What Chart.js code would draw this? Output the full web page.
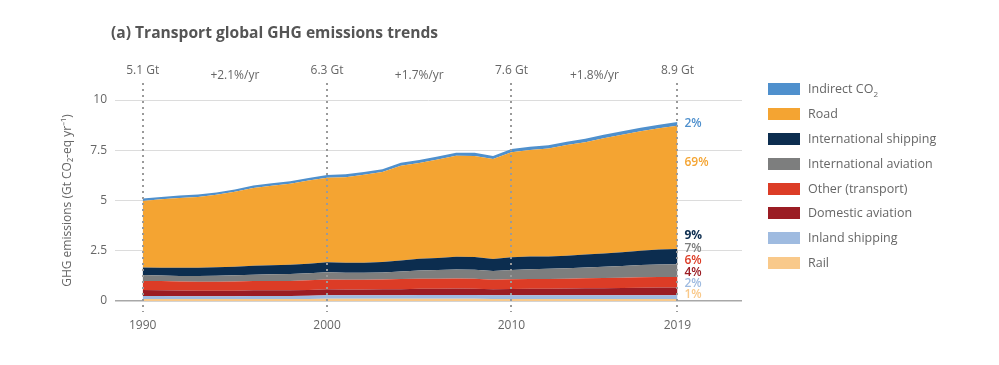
<!DOCTYPE html>
<html>
<head>
<meta charset="utf-8">
<script src="https://cdn.jsdelivr.net/npm/chart.js@4"></script>
<style>
  body { margin: 0; background: #fff; font-family: "Open Sans", sans-serif; }
  #wrap { position: relative; width: 999px; height: 365px; }
  #title { position: absolute; left: 111px; top: 21px; font-size: 15.6px; font-weight: 700; color: #555; }
  #legend { position: absolute; left: 768px; top: 82px; }
  .item { height: 24.9px; display: flex; align-items: flex-start; font-size: 12.5px; color: #666; }
  .sw { width: 32px; height: 12px; margin-right: 8px; margin-top: 1px; }
  .item span.t { line-height: 14px; }
  canvas { position: absolute; left: 0; top: 0; }
</style>
</head>
<body>
<div id="wrap">
  <canvas id="c" width="999" height="365"></canvas>
  <div id="title">(a) Transport global GHG emissions trends</div>
  <div id="legend"></div>
</div>
<script>
const years = [1990,1991,1992,1993,1994,1995,1996,1997,1998,1999,2000,2001,2002,2003,2004,2005,2006,2007,2008,2009,2010,2011,2012,2013,2014,2015,2016,2017,2018,2019];

// Gt CO2-eq per year, each layer on its own (stacked bottom to top)
const rail = [0.10,0.10,0.10,0.10,0.10,0.10,0.10,0.10,0.10,0.10,0.11,0.11,0.11,0.11,0.11,0.11,0.11,0.11,0.11,0.10,0.10,0.10,0.10,0.10,0.10,0.10,0.10,0.10,0.10,0.10];
const inlandShipping = [0.15,0.15,0.14,0.14,0.14,0.14,0.15,0.15,0.15,0.16,0.17,0.17,0.17,0.18,0.18,0.19,0.19,0.19,0.19,0.18,0.19,0.19,0.19,0.19,0.19,0.19,0.19,0.19,0.19,0.19];
const domesticAviation = [0.30,0.29,0.28,0.27,0.27,0.27,0.28,0.28,0.28,0.29,0.30,0.29,0.29,0.29,0.30,0.31,0.31,0.32,0.31,0.30,0.31,0.32,0.32,0.33,0.34,0.35,0.36,0.37,0.38,0.38];
const otherTransport = [0.45,0.45,0.45,0.45,0.45,0.46,0.46,0.47,0.47,0.48,0.49,0.49,0.49,0.49,0.50,0.50,0.50,0.50,0.50,0.48,0.48,0.49,0.49,0.49,0.50,0.50,0.51,0.52,0.52,0.53];
const intlAviation = [0.29,0.28,0.28,0.29,0.30,0.31,0.32,0.33,0.34,0.35,0.36,0.34,0.34,0.35,0.38,0.41,0.43,0.45,0.45,0.43,0.46,0.48,0.50,0.52,0.54,0.56,0.58,0.61,0.63,0.63];
const intlShipping = [0.38,0.39,0.40,0.41,0.42,0.43,0.44,0.45,0.46,0.47,0.50,0.50,0.50,0.52,0.55,0.58,0.60,0.63,0.63,0.60,0.64,0.63,0.61,0.62,0.64,0.66,0.68,0.71,0.74,0.76];
const road = [3.31,3.40,3.48,3.52,3.60,3.72,3.87,3.95,4.03,4.14,4.20,4.26,4.38,4.48,4.71,4.77,4.90,5.03,5.03,4.97,5.22,5.30,5.38,5.51,5.59,5.74,5.85,5.95,6.03,6.13];
const indirectCO2 = [0.12,0.12,0.12,0.12,0.12,0.12,0.13,0.13,0.13,0.13,0.14,0.14,0.14,0.14,0.15,0.15,0.15,0.15,0.15,0.15,0.16,0.16,0.16,0.16,0.17,0.17,0.17,0.17,0.18,0.18];

const markYears = [1990, 2000, 2010, 2019];
const totalLabels = ["5.1 Gt", "6.3 Gt", "7.6 Gt", "8.9 Gt"];
const growthLabels = ["+2.1%/yr", "+1.7%/yr", "+1.8%/yr"];
const shareLabels = ["2%", "69%", "9%", "7%", "6%", "4%", "2%", "1%"];
const yTicks = [0, 2.5, 5, 7.5, 10];

const layers = [
  { label: "Rail", data: rail, color: "#f9c98a" },
  { label: "Inland shipping", data: inlandShipping, color: "#9fbbe0" },
  { label: "Domestic aviation", data: domesticAviation, color: "#9b1c23" },
  { label: "Other (transport)", data: otherTransport, color: "#dc3c26" },
  { label: "International aviation", data: intlAviation, color: "#7d7e7e" },
  { label: "International shipping", data: intlShipping, color: "#0c2d4f" },
  { label: "Road", data: road, color: "#f4a432" },
  { label: "Indirect CO₂", data: indirectCO2, color: "#4f90cd", html: "Indirect CO<sub style='font-size:8px'>2</sub>" },
];

// legend, top to bottom
const legend = document.getElementById("legend");
[...layers].reverse().forEach(l => {
  const row = document.createElement("div");
  row.className = "item";
  row.innerHTML = `<div class="sw" style="background:${l.color}"></div><span class="t">${l.html || l.label}</span>`;
  legend.appendChild(row);
});

const decor = {
  id: "decor",
  afterDatasetsDraw(chart) {
    const { ctx, scales: { x, y } } = chart;
    ctx.save();
    // dotted year markers
    ctx.strokeStyle = "#9a9a9a";
    ctx.lineWidth = 2;
    ctx.setLineDash([2, 4]);
    markYears.forEach(yr => {
      const px = Math.round(x.getPixelForValue(yr));
      ctx.beginPath();
      ctx.moveTo(px, 83);
      ctx.lineTo(px, 312);
      ctx.stroke();
    });
    ctx.setLineDash([]);
    ctx.font = "12px 'Open Sans'";
    ctx.fillStyle = "#666";
    ctx.textAlign = "center";
    ctx.textBaseline = "middle";
    markYears.forEach((yr, i) => ctx.fillText(totalLabels[i], x.getPixelForValue(yr), 71));
    growthLabels.forEach((t, i) => {
      const mid = (markYears[i] + markYears[i + 1]) / 2;
      ctx.fillText(t, x.getPixelForValue(mid), 76);
    });
    // shares in 2019
    const shareY = [124, 163, 236, 249, 261, 273, 284, 295];
    const shareColors = ["#4f90cd", "#f4a432", "#0c2d4f", "#7d7e7e", "#dc3c26", "#9b1c23", "#9fbbe0", "#f9c98a"];
    ctx.textAlign = "left";
    const sx = x.getPixelForValue(2019) + 7;
    shareLabels.forEach((t, i) => {
      ctx.font = (i === 2 ? "700 " : "600 ") + "12px 'Open Sans'";
      ctx.fillStyle = shareColors[i];
      ctx.fillText(t, sx, shareY[i]);
    });
    ctx.restore();
  }
};

new Chart(document.getElementById("c"), {
  type: "line",
  data: {
    datasets: layers.map((l, i) => ({
      label: l.label,
      data: years.map((yr, j) => ({ x: yr, y: l.data[j] })),
      backgroundColor: l.color,
      borderColor: l.color,
      borderWidth: 0,
      pointRadius: 0,
      fill: i === 0 ? "origin" : "-1",
      tension: 0,
    })),
  },
  options: {
    responsive: false,
    animation: false,
    events: [],
    layout: { padding: { left: 60, right: 257, top: 100, bottom: 30 } },
    plugins: { legend: { display: false }, tooltip: { enabled: false } },
    scales: {
      x: {
        type: "linear",
        min: 1988.5,
        max: 2022.5,
        afterBuildTicks: s => { s.ticks = markYears.map(v => ({ value: v })); },
        afterFit: s => { s.height = 34; },
        grid: { display: false, drawTicks: false },
        border: { display: false },
        ticks: { color: "#666", font: { family: "Open Sans", size: 12 }, padding: 17, callback: v => String(v) },
      },
      y: {
        stacked: true,
        min: 0,
        max: 10,
        afterBuildTicks: s => { s.ticks = yTicks.map(v => ({ value: v })); },
        afterFit: s => { s.width = 55; },
        border: { display: false },
        grid: {
          drawTicks: false,
          color: c => c.tick.value === 0 ? "#a8a8a8" : "#dcdcdc",
          lineWidth: c => c.tick.value === 0 ? 1.5 : 1,
        },
        ticks: { color: "#666", font: { family: "Open Sans", size: 12 }, padding: 8 },
        title: {
          display: true,
          text: "GHG emissions (Gt CO₂-eq yr⁻¹)",
          color: "#666",
          font: { family: "Open Sans", size: 12 },
          padding: 0,
        },
      },
    },
  },
  plugins: [decor],
});
</script>
</body>
</html>
